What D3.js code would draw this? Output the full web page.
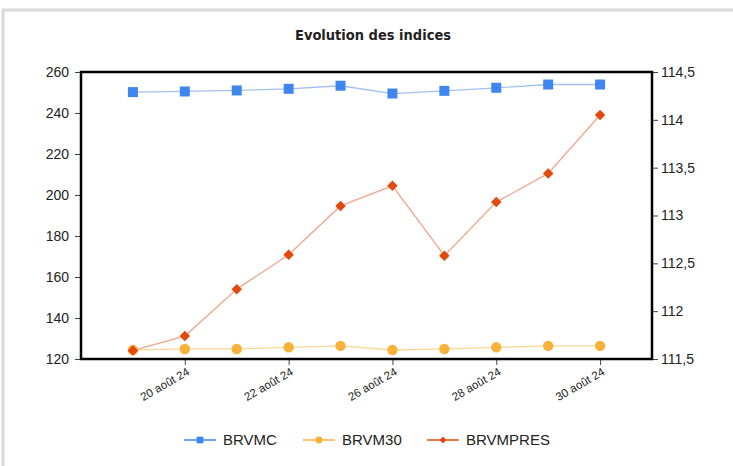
<!DOCTYPE html>
<html>
<head>
    <meta charset="utf-8">
    <title>Evolution des indices</title>
</head>
<style>
body {
    margin: 0;
    background-color: #fff;
}
text {
    font-family: "Liberation Sans", Arial, sans-serif;
}
.tick line {
    stroke: #444;
}
</style>
<body>
    <div id="graphic"></div>
    <script src="https://cdnjs.cloudflare.com/ajax/libs/d3/7.8.5/d3.min.js"></script>
    <script>

    // data
    var dates = ["19 août 24", "20 août 24", "21 août 24", "22 août 24", "23 août 24",
                 "26 août 24", "27 août 24", "28 août 24", "29 août 24", "30 août 24"];
    var shownDates = ["20 août 24", "22 août 24", "26 août 24", "28 août 24", "30 août 24"];
    var brvmc = [250.2, 250.5, 251.0, 251.8, 253.3, 249.5, 250.8, 252.3, 253.9, 253.9];
    var brvm30 = [124.4, 124.9, 124.9, 125.7, 126.4, 124.4, 124.9, 125.7, 126.4, 126.4];
    var brvmpres = [111.59, 111.74, 112.23, 112.59, 113.10, 113.31, 112.58, 113.14, 113.44, 114.05];
    var leftTicks = [120, 140, 160, 180, 200, 220, 240, 260];
    var rightTicks = [111.5, 112, 112.5, 113, 113.5, 114, 114.5];

    var w = 733;
    var h = 466;
    var box = {left: 81, right: 652, top: 72, bottom: 359};

    var svg = d3.select("#graphic")
        .append("svg")
        .attr("width", w)
        .attr("height", h);

    // card border
    svg.append("rect")
        .attr("x", 3)
        .attr("y", 10)
        .attr("width", w + 10)
        .attr("height", h + 10)
        .attr("fill", "none")
        .attr("stroke", "#d9d9d9")
        .attr("stroke-width", 3);

    svg.append("text")
        .attr("x", 373)
        .attr("y", 40)
        .attr("text-anchor", "middle")
        .style("font-family", "'DejaVu Sans Condensed', 'DejaVu Sans', sans-serif")
        .style("font-weight", "bold")
        .style("font-size", "14.5px")
        .attr("fill", "#222")
        .text("Evolution des indices");

    var x = d3.scalePoint()
        .domain(dates)
        .range([box.left, box.right])
        .padding(1);

    var yL = d3.scaleLinear().domain([120, 260]).range([box.bottom, box.top]);
    var yR = d3.scaleLinear().domain([111.5, 114.5]).range([box.bottom, box.top]);

    var comma = function(d) { return String(d).replace(".", ","); };

    var gl = svg.append("g")
        .attr("transform", "translate(" + box.left + ",0)")
        .call(d3.axisLeft(yL).tickValues(leftTicks).tickSize(6).tickPadding(6));

    var gr = svg.append("g")
        .attr("transform", "translate(" + box.right + ",0)")
        .call(d3.axisRight(yR).tickValues(rightTicks).tickSize(6).tickPadding(3).tickFormat(comma));

    var gx = svg.append("g")
        .attr("transform", "translate(0," + box.bottom + ")")
        .call(d3.axisBottom(x).tickValues(shownDates).tickSize(6));

    [gl, gr, gx].forEach(function(g) {
        g.select(".domain").remove();
        g.selectAll("text")
            .style("font-size", "14px")
            .attr("fill", "#222");
    });

    gx.selectAll("text")
        .style("font-size", "11.5px")
        .attr("text-anchor", "end")
        .attr("dy", "0")
        .attr("y", 0)
        .attr("transform", "translate(5,15) rotate(-30)");

    // plot box
    svg.append("rect")
        .attr("x", box.left)
        .attr("y", box.top)
        .attr("width", box.right - box.left)
        .attr("height", box.bottom - box.top)
        .attr("fill", "none")
        .attr("stroke", "#000")
        .attr("stroke-width", 2.5);

    var series = [
        {name: "BRVMC", values: brvmc, y: yL, color: "#3f86f0", line: "#a3c0f2", shape: d3.symbolSquare, size: 100, rot: 0},
        {name: "BRVM30", values: brvm30, y: yL, color: "#f9b13a", line: "#f8d898", shape: d3.symbolCircle, size: 85, rot: 0},
        {name: "BRVMPRES", values: brvmpres, y: yR, color: "#e2490c", line: "#f2a68a", shape: d3.symbolSquare, size: 55, rot: 45}
    ];

    series.forEach(function(s) {
        var pts = s.values.map(function(v, i) { return [x(dates[i]), s.y(v)]; });

        svg.append("path")
            .datum(pts)
            .attr("d", d3.line())
            .attr("fill", "none")
            .attr("stroke", s.line)
            .attr("stroke-width", 1.3);

        svg.append("g")
            .selectAll("path")
            .data(pts)
            .enter().append("path")
            .attr("transform", function(d) { return "translate(" + d[0] + "," + d[1] + ") rotate(" + s.rot + ")"; })
            .attr("d", d3.symbol().type(s.shape).size(s.size))
            .attr("fill", s.color);
    });

    // legend
    var legendX = [184, 303, 427];
    var legend = svg.append("g")
        .selectAll("g")
        .data(series)
        .enter().append("g")
        .attr("transform", function(d, i) { return "translate(" + legendX[i] + ",440)"; });

    legend.append("line")
        .attr("x1", 0)
        .attr("x2", 32)
        .attr("stroke", function(d) { return d.color; })
        .attr("stroke-width", 1.5);

    legend.append("path")
        .attr("transform", function(d) { return "translate(16,0) rotate(" + d.rot + ")"; })
        .attr("d", function(d) { return d3.symbol().type(d.shape).size(d.size * 0.45)(); })
        .attr("fill", function(d) { return d.color; });

    legend.append("text")
        .attr("x", 39)
        .attr("y", 5)
        .style("font-size", "15px")
        .attr("fill", "#222")
        .text(function(d) { return d.name; });

    </script>
</body>
</html>
